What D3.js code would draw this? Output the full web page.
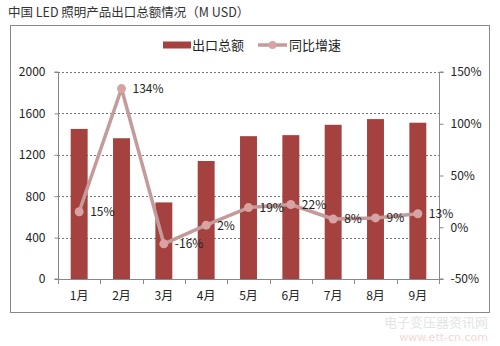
<!DOCTYPE html>
<html><head><meta charset="utf-8">
<script src="https://cdn.jsdelivr.net/npm/d3@7"></script>
<style>body{margin:0;background:#fff;}svg{display:block;}</style>
</head><body>
<svg id="c" width="500" height="346"></svg>
<script>
const categories = ["1月","2月","3月","4月","5月","6月","7月","8月","9月"];
const exportTotal = [1450, 1360, 740, 1140, 1380, 1390, 1490, 1545, 1510];
const growth = [15, 134, -16, 2, 19, 22, 8, 9, 13];
const leftTicks = [0, 400, 800, 1200, 1600, 2000];
const rightTicks = [-50, 0, 50, 100, 150];
const title = "中国 LED 照明产品出口总额情况（M USD）";
const legendNames = ["出口总额", "同比增速"];

const svg = d3.select("#c");
const font = "'Noto Sans CJK SC', 'DejaVu Sans', sans-serif";
const barColor = "#a5413e", lineColor = "#c49b9b", markColor = "#d8a3a3", textColor = "#222";

const L = 58, R = 439, T = 72, B = 279;

svg.append("text").attr("x", 8).attr("y", 17).attr("font-family", font)
  .attr("font-size", 12.5).attr("fill", "#333").text(title);

svg.append("rect").attr("x", 10.5).attr("y", 25.5).attr("width", 479).attr("height", 287)
  .attr("fill", "none").attr("stroke", "#888").attr("stroke-width", 1);

const x = d3.scaleBand().domain(categories).range([L, R]).paddingInner(0.6).paddingOuter(0.3);
const yL = d3.scaleLinear().domain([0, 2000]).range([B, T]);
const yR = d3.scaleLinear().domain([-50, 150]).range([B, T]);

// gridlines
svg.append("g").selectAll("line").data(leftTicks.filter(d => d > 0)).join("line")
  .attr("x1", L).attr("x2", R).attr("y1", d => Math.round(yL(d)) + 0.5).attr("y2", d => Math.round(yL(d)) + 0.5)
  .attr("stroke", "#777").attr("stroke-dasharray", "2,2").attr("stroke-width", 1);

// bars
svg.append("g").selectAll("rect").data(exportTotal).join("rect")
  .attr("x", (d, i) => x(categories[i])).attr("width", x.bandwidth())
  .attr("y", d => yL(d)).attr("height", d => yL(0) - yL(d)).attr("fill", barColor);

// axes
const axL = d3.axisLeft(yL).tickValues(leftTicks).tickSize(4).tickPadding(9).tickFormat(d3.format("d"));
const gL = svg.append("g").attr("transform", `translate(${L + 0.5},0)`).call(axL);
const axR = d3.axisRight(yR).tickValues(rightTicks).tickSize(4).tickPadding(7).tickFormat(d => d + "%");
const gR = svg.append("g").attr("transform", `translate(${R + 0.5},0)`).call(axR);
const xb = d3.scaleBand().domain(categories).range([L, R]);
const axB = d3.axisBottom(xb).tickSize(0).tickPadding(10);
const gB = svg.append("g").attr("transform", `translate(0,${B + 0.5})`).call(axB);
// bottom boundary ticks
svg.append("g").selectAll("line").data(d3.range(categories.length + 1)).join("line")
  .attr("x1", i => Math.round(L + i * xb.step()) + 0.5).attr("x2", i => Math.round(L + i * xb.step()) + 0.5)
  .attr("y1", B).attr("y2", B + 5).attr("stroke", "#888");
[gL, gR, gB].forEach(g => {
  g.selectAll("path").attr("stroke", "#888");
  g.selectAll("line").attr("stroke", "#888");
  g.selectAll("text").attr("font-family", font).attr("font-size", 12).attr("fill", textColor);
});
gL.select("path").attr("d", `M-4,${T}H0V${B}H-4`);
gR.select("path").attr("d", `M4,${T}H0V${B}H4`);
gB.select("path").attr("d", `M${L},0H${R}`);
gB.selectAll("text").attr("dy", "0.9em");

// line
const cx = i => x(categories[i]) + x.bandwidth() / 2;
const line = d3.line().x((d, i) => cx(i)).y(d => yR(d));
svg.append("path").datum(growth).attr("d", line).attr("fill", "none")
  .attr("stroke", lineColor).attr("stroke-width", 3.5).attr("stroke-linejoin", "round");
svg.append("g").selectAll("circle").data(growth).join("circle")
  .attr("cx", (d, i) => cx(i)).attr("cy", d => yR(d)).attr("r", 4.5).attr("fill", markColor);
svg.append("g").selectAll("text").data(growth).join("text")
  .attr("x", (d, i) => cx(i) + 11).attr("y", d => yR(d) + 4.5)
  .attr("font-family", font).attr("font-size", 12).attr("fill", textColor)
  .text(d => d + "%");

// legend
const lg = svg.append("g");
lg.append("rect").attr("x", 163).attr("y", 41.5).attr("width", 28).attr("height", 7).attr("fill", barColor);
lg.append("text").attr("x", 192).attr("y", 49.5).attr("font-family", font).attr("font-size", 13)
  .attr("fill", textColor).text(legendNames[0]);
lg.append("line").attr("x1", 258).attr("x2", 287).attr("y1", 45).attr("y2", 45)
  .attr("stroke", lineColor).attr("stroke-width", 3.5);
lg.append("circle").attr("cx", 272.5).attr("cy", 45).attr("r", 4).attr("fill", markColor);
lg.append("text").attr("x", 289).attr("y", 49.5).attr("font-family", font).attr("font-size", 13)
  .attr("fill", textColor).text(legendNames[1]);

// watermark (kept below the axis labels)
const wm = svg.append("g").attr("opacity", 0.4);
wm.append("text").attr("x", 488).attr("y", 327).attr("text-anchor", "end").attr("font-family", font).attr("font-size", 13)
  .attr("fill", "#bbb").text("电子变压器资讯网");
wm.append("text").attr("x", 488).attr("y", 341).attr("text-anchor", "end").attr("font-family", "'DejaVu Sans', sans-serif").attr("font-size", 11)
  .attr("fill", "#e79a9a").text("www.ett-cn.com");
</script>
</body></html>
